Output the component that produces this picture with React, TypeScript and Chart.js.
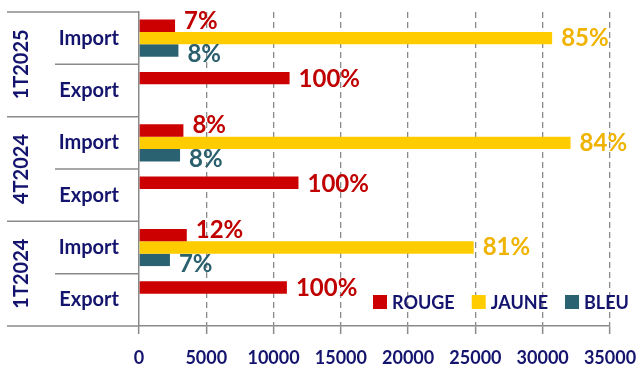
import React, { useEffect, useRef } from "react";
import { Chart, registerables } from "chart.js";

Chart.register(...registerables);

// ---- data ----
const categories = ["Import", "Export", "Import", "Export", "Import", "Export"];
const groups = ["1T2025", "4T2024", "1T2024"];
const seriesNames = ["ROUGE", "JAUNE", "BLEU"];
const rouge = [2680, 11190, 3300, 11850, 3550, 10990];
const jaune = [30700, null, 32070, null, 24870, null];
const bleu = [2930, null, 3050, null, 2300, null];
const rougeLabels = ["7%", "100%", "8%", "100%", "12%", "100%"];
const jauneLabels = ["85%", null, "84%", null, "81%", null];
const bleuLabels = ["8%", null, "8%", null, "7%", null];
const xTicks = [0, 5000, 10000, 15000, 20000, 25000, 30000, 35000];

// ---- styles ----
const FONT = "Lato";
const NAVY = "#14146E";
const GRAY = "#8A8A8A";
const barColors = ["#CC0000", "#FFCC00", "#2A6272"];
const labelColors = ["#C00000", "#EFB300", "#2A5F6D"];
const labelDy = [-5, 0, 4];

const allLabels = [rougeLabels, jauneLabels, bleuLabels];

const overlayPlugin = {
  id: "overlay",
  afterDraw(chart: any) {
    const { ctx, chartArea, scales } = chart;
    const ys = scales.y;
    ctx.save();
    // category separators
    ctx.strokeStyle = GRAY;
    ctx.lineWidth = 1.5;
    const seg = (x1: number, y1: number, x2: number, y2: number) => {
      ctx.beginPath();
      ctx.moveTo(x1, y1);
      ctx.lineTo(x2, y2);
      ctx.stroke();
    };
    seg(7, chartArea.top, chartArea.left, chartArea.top);
    for (let i = 1; i < categories.length; i++) {
      const yy = (ys.getPixelForValue(i - 1) + ys.getPixelForValue(i)) / 2;
      seg(i % 2 === 0 ? 7 : 55, yy, chartArea.left, yy);
    }
    seg(7, chartArea.bottom, chartArea.left, chartArea.bottom);

    // group labels
    ctx.fillStyle = NAVY;
    ctx.font = `bold 20px ${FONT}`;
    ctx.textAlign = "center";
    ctx.textBaseline = "middle";
    groups.forEach((g, gi) => {
      const cy = (ys.getPixelForValue(gi * 2) + ys.getPixelForValue(gi * 2 + 1)) / 2;
      ctx.save();
      ctx.translate(22, cy);
      ctx.rotate(-Math.PI / 2);
      ctx.fillText(g, 0, 0);
      ctx.restore();
    });

    // data labels
    ctx.font = `bold 24px ${FONT}`;
    ctx.textAlign = "left";
    chart.data.datasets.forEach((_ds: any, di: number) => {
      const meta = chart.getDatasetMeta(di);
      meta.data.forEach((bar: any, i: number) => {
        const lbl = allLabels[di][i];
        if (!lbl) return;
        const isExport = categories[i] === "Export";
        ctx.fillStyle = labelColors[di];
        ctx.fillText(lbl, bar.x + 9, bar.y + (isExport ? 1 : labelDy[di]));
      });
    });

    // legend
    ctx.font = `bold 18px ${FONT}`;
    ctx.textBaseline = "middle";
    let lx = 373;
    const ly = 302;
    seriesNames.forEach((name, si) => {
      ctx.fillStyle = barColors[si];
      ctx.fillRect(lx, ly - 7, 14, 14);
      ctx.fillStyle = NAVY;
      ctx.fillText(name, lx + 19, ly + 1);
      lx += 19 + ctx.measureText(name).width + 17;
    });
    ctx.restore();
  },
};

export default function App() {
  const ref = useRef<HTMLCanvasElement>(null);
  useEffect(() => {
    let chart: Chart | null = null;
    let cancelled = false;
    const build = () => {
      if (cancelled || !ref.current) return;
      chart = new Chart(ref.current, {
        type: "bar",
        data: {
          labels: categories,
          datasets: [
            { label: seriesNames[0], data: rouge, backgroundColor: barColors[0] },
            { label: seriesNames[1], data: jaune as any, backgroundColor: barColors[1] },
            { label: seriesNames[2], data: bleu as any, backgroundColor: barColors[2] },
          ],
        },
        options: {
          indexAxis: "y",
          responsive: false,
          maintainAspectRatio: false,
          animation: false,
          events: [],
          layout: { padding: { top: 12, right: 27, bottom: 0, left: 0 } },
          datasets: { bar: { categoryPercentage: 0.71, barPercentage: 1.0 } },
          plugins: { legend: { display: false }, tooltip: { enabled: false } },
          scales: {
            x: {
              min: 0,
              max: 35000,
              afterBuildTicks: (s: any) => {
                s.ticks = xTicks.map((v) => ({ value: v }));
              },
              afterFit: (s: any) => {
                s.height = 44;
                s.paddingLeft = 0;
                s.paddingRight = 0;
              },
              ticks: {
                color: NAVY,
                font: { family: FONT, size: 18, weight: "bold" },
                padding: 13,
                maxRotation: 0,
                autoSkip: false,
                callback: (v: any) => String(v),
              },
              grid: {
                color: (c: any) => (c.tick && c.tick.value === 0 ? "rgba(0,0,0,0)" : GRAY),
                lineWidth: 1.3,
                tickColor: GRAY,
                tickLength: 8,
                tickWidth: 1.5,
                tickBorderDash: [],
              },
              border: { display: true, color: GRAY, width: 1.5, dash: [6, 4] },
            },
            y: {
              afterFit: (s: any) => {
                s.width = 139;
                s.paddingTop = 0;
                s.paddingBottom = 0;
              },
              ticks: {
                color: NAVY,
                font: { family: FONT, size: 20, weight: "bold" },
                padding: 20,
                autoSkip: false,
              },
              grid: { display: false, drawTicks: false },
              border: { display: true, color: GRAY, width: 1.5 },
            },
          },
        },
        plugins: [overlayPlugin],
      } as any);
    };
    const fontsApi = (document as any).fonts;
    if (fontsApi && fontsApi.load) {
      Promise.all([
        fontsApi.load(`bold 20px ${FONT}`),
        fontsApi.load(`20px ${FONT}`),
      ]).then(build, build);
    } else {
      build();
    }
    return () => {
      cancelled = true;
      if (chart) chart.destroy();
    };
  }, []);
  return (
    <div style={{ position: "fixed", left: 0, top: 0, width: 637, height: 370, background: "#fff" }}>
      <canvas ref={ref} width={637} height={370} style={{ display: "block" }} />
    </div>
  );
}
